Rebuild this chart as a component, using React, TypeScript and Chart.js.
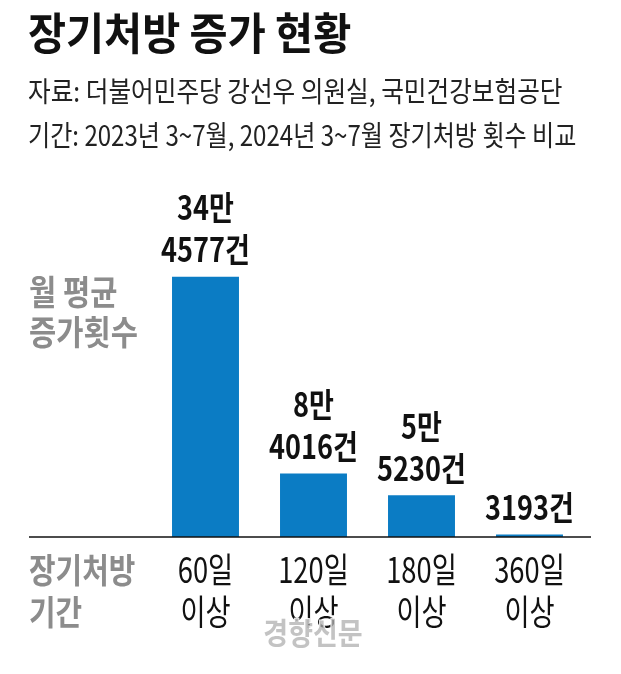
import React, { useEffect, useRef } from 'react';
import { Chart, registerables } from 'chart.js';

Chart.register(...registerables);

const TITLE = '장기처방 증가 현황';
const SUBTITLES = [
  '자료: 더불어민주당 강선우 의원실, 국민건강보험공단',
  '기간: 2023년 3~7월, 2024년 3~7월 장기처방 횟수 비교',
];
const CATEGORIES = [
  ['60일', '이상'],
  ['120일', '이상'],
  ['180일', '이상'],
  ['360일', '이상'],
];
const VALUES = [344577, 84016, 55230, 3193];
const Y_LABEL = ['월 평균', '증가횟수'];
const X_LABEL = ['장기처방', '기간'];
const WATERMARK = '경향신문';
const Y_MAX = 400000;

const FONT = "'Noto Sans CJK KR', 'Noto Sans', sans-serif";
const BAR_COLOR = '#0b7cc4';
const GRAY = '#8c8c8c';

function valueLines(v: number): string[] {
  const man = Math.floor(v / 10000);
  const rest = v % 10000;
  return man > 0 ? [`${man}만`, `${rest}건`] : [`${rest}건`];
}

function drawText(
  ctx: CanvasRenderingContext2D,
  text: string,
  x: number,
  y: number,
  font: string,
  color: string,
  align: CanvasTextAlign,
  sx: number
) {
  ctx.save();
  ctx.translate(x, y);
  ctx.scale(sx, 1);
  ctx.font = font;
  ctx.fillStyle = color;
  ctx.textAlign = align;
  ctx.textBaseline = 'middle';
  ctx.fillText(text, 0, 0);
  ctx.restore();
}

const textPlugin = {
  id: 'customText',
  beforeDraw(chart: any) {
    const ctx = chart.ctx as CanvasRenderingContext2D;
    ctx.save();
    ctx.fillStyle = '#ffffff';
    ctx.fillRect(0, 0, chart.width, chart.height);
    ctx.restore();
  },
  afterDatasetsDraw(chart: any) {
    const ctx = chart.ctx as CanvasRenderingContext2D;
    const xs = chart.scales.x;
    const ys = chart.scales.y;
    const yBase = ys.getPixelForValue(0);

    // title & subtitles
    drawText(ctx, TITLE, 28, 33, `bold 44px ${FONT}`, '#111', 'left', 0.94);
    drawText(ctx, SUBTITLES[0], 28, 91, `28px ${FONT}`, '#222', 'left', 0.88);
    drawText(ctx, SUBTITLES[1], 28, 135, `28px ${FONT}`, '#222', 'left', 0.86);

    // baseline
    ctx.save();
    ctx.strokeStyle = '#111';
    ctx.lineWidth = 1.5;
    ctx.beginPath();
    ctx.moveTo(29, yBase);
    ctx.lineTo(591, yBase);
    ctx.stroke();
    ctx.restore();

    // value labels
    const meta = chart.getDatasetMeta(0);
    meta.data.forEach((bar: any, i: number) => {
      const lines = valueLines(VALUES[i]);
      const n = lines.length;
      lines.forEach((ln, j) => {
        const y = bar.y - 27 - (n - 1 - j) * 42;
        drawText(ctx, ln, bar.x, y, `bold 33px ${FONT}`, '#111', 'center', 0.82);
      });
    });

    // category labels
    CATEGORIES.forEach((lines, i) => {
      const x = xs.getPixelForValue(i);
      lines.forEach((ln, j) => {
        drawText(ctx, ln, x, yBase + 33 + j * 42, `35px ${FONT}`, '#111', 'center', 0.78);
      });
    });

    // axis titles
    X_LABEL.forEach((ln, j) => {
      drawText(ctx, ln, 29, yBase + 33 + j * 42, `bold 34px ${FONT}`, GRAY, 'left', 0.85);
    });
    Y_LABEL.forEach((ln, j) => {
      drawText(ctx, ln, 29, 292 + j * 40, `bold 34px ${FONT}`, GRAY, 'left', 0.87);
    });

    // watermark
    ctx.save();
    ctx.translate(313, 633);
    ctx.scale(0.9, 1);
    ctx.font = `bold 30px ${FONT}`;
    ctx.textAlign = 'center';
    ctx.textBaseline = 'middle';
    ctx.lineWidth = 2;
    ctx.strokeStyle = 'rgba(255,255,255,0.9)';
    ctx.strokeText(WATERMARK, 0, 0);
    ctx.fillStyle = 'rgba(175,175,175,0.75)';
    ctx.fillText(WATERMARK, 0, 0);
    ctx.restore();
  },
};

export default function App() {
  const canvasRef = useRef<HTMLCanvasElement | null>(null);

  useEffect(() => {
    document.body.style.margin = '0';
    const canvas = canvasRef.current;
    if (!canvas) return;
    const chart = new Chart(canvas, {
      type: 'bar',
      data: {
        labels: CATEGORIES.map((c) => c.join(' ')),
        datasets: [
          {
            data: VALUES,
            backgroundColor: BAR_COLOR,
            borderWidth: 0,
            barPercentage: 0.62,
            categoryPercentage: 1,
          },
        ],
      },
      options: {
        responsive: false,
        animation: false,
        devicePixelRatio: 1,
        layout: { padding: { left: 151.5, right: 37.5, top: 235, bottom: 137 } },
        plugins: {
          legend: { display: false },
          tooltip: { enabled: false },
          title: { display: false },
        },
        scales: {
          x: { display: false },
          y: { display: false, min: 0, max: Y_MAX },
        },
      },
      plugins: [textPlugin],
    } as any);
    return () => chart.destroy();
  }, []);

  return (
    <div style={{ width: 621, height: 674, background: '#fff' }}>
      <canvas ref={canvasRef} width={621} height={674} style={{ display: 'block' }} />
    </div>
  );
}
